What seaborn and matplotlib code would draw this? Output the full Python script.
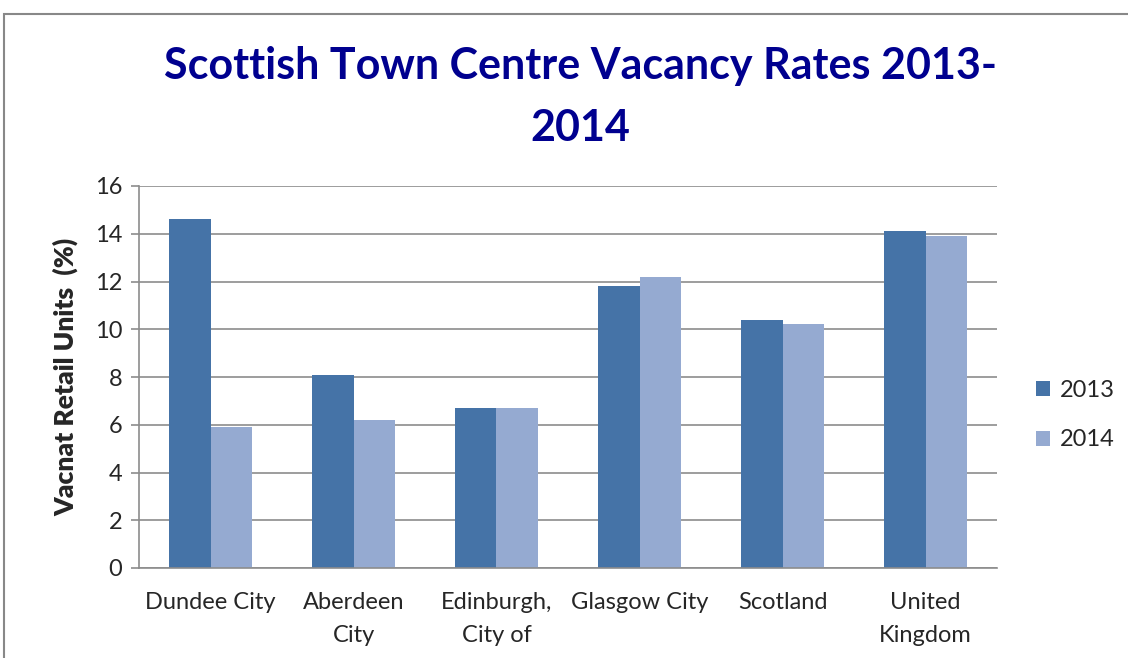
import matplotlib
matplotlib.use("Agg")
import matplotlib.pyplot as plt
import seaborn as sns
import pandas as pd
from matplotlib.patches import Rectangle

categories = ["Dundee City", "Aberdeen\nCity", "Edinburgh,\nCity of", "Glasgow City", "Scotland", "United\nKingdom"]
years = ["2013", "2014"]
v2013 = [14.6, 8.1, 6.7, 11.8, 10.4, 14.1]
v2014 = [5.9, 6.2, 6.7, 12.2, 10.2, 13.9]

df = pd.DataFrame({
    "cat": categories * 2,
    "year": [years[0]] * len(categories) + [years[1]] * len(categories),
    "val": v2013 + v2014,
})

sns.set_theme(style="white")
plt.rcParams['font.family'] = ['Lato', 'DejaVu Sans']

fig = plt.figure(figsize=(11.28, 6.58), dpi=100)
ax = fig.add_axes([139/1128, 1 - 568/658, (997-139)/1128, (568-186)/658])

palette = {"2013": "#4573A7", "2014": "#95AAD1"}
sns.barplot(data=df, x="cat", y="val", hue="year", order=categories, hue_order=years,
            palette=palette, width=0.575, saturation=1, ax=ax, edgecolor="none", legend=True)

ax.set_xlim(-0.5, 5.5)
ax.set_ylim(0, 16)
ax.set_yticks(range(0, 17, 2))
ax.yaxis.grid(True, color="#8C8C8C", linewidth=1.2)
ax.set_axisbelow(True)
for s in ["top", "right"]:
    ax.spines[s].set_visible(False)
for s in ["left", "bottom"]:
    ax.spines[s].set_color("#8C8C8C")
    ax.spines[s].set_linewidth(1.2)

ax.set_xticks(range(len(categories)))
ax.set_xticklabels(categories, fontsize=17)
for t in ax.get_xticklabels():
    t.set_linespacing(1.75)
ax.set_xticks([i - 0.5 for i in range(len(categories) + 1)], minor=True)
ax.tick_params(axis="x", which="major", length=0, pad=17)
ax.tick_params(axis="x", which="minor", length=7, color="#8C8C8C", width=1.2, direction="out")
ax.tick_params(axis="y", length=6, color="#8C8C8C", width=1.2, labelsize=17, pad=6, left=True)
ax.set_xlabel("")
ax.set_ylabel("Vacnat Retail Units  (%)", fontsize=19, fontweight="heavy", labelpad=12)

leg = ax.legend(loc="center left", bbox_to_anchor=(1.021, 0.40), frameon=False, fontsize=17,
                handlelength=0.6, handleheight=0.6, handletextpad=0.4, labelspacing=1.2)

fig.text(580/1128, 1 - 97/658, "Scottish Town Centre Vacancy Rates 2013-\n2014", ha="center", va="center",
         fontsize=31, fontweight="bold", color="#00008F", linespacing=1.65)

fig.patches.append(Rectangle((4/1128, -0.1), 1.2, (658 - 14)/658 + 0.1, transform=fig.transFigure,
                             fill=False, edgecolor="#888888", linewidth=1.5))

fig.savefig("out.png", dpi=100)
